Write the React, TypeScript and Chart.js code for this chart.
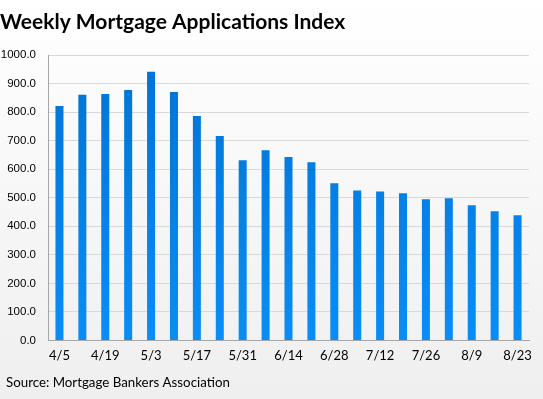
import React, { useEffect, useRef } from "react";
import { Chart, registerables } from "chart.js";

Chart.register(...registerables);

const categories = [
  "4/5", "4/12", "4/19", "4/26", "5/3", "5/10", "5/17", "5/24", "5/31", "6/7", "6/14",
  "6/21", "6/28", "7/5", "7/12", "7/19", "7/26", "8/2", "8/9", "8/16", "8/23",
];
const indexValues = [
  822, 861, 864, 878, 942, 871, 787, 717, 632, 667, 643,
  625, 551, 526, 522, 516, 495, 498, 474, 453, 439,
];
const titleText = "Weekly Mortgage Applications Index";
const sourceText = "Source: Mortgage Bankers Association";

const bgPlugin = {
  id: "bgGradient",
  beforeDraw(chart: any) {
    const { ctx, width, height } = chart;
    ctx.save();
    const g = ctx.createLinearGradient(0, 0, 0, height);
    g.addColorStop(0, "#ffffff");
    g.addColorStop(1, "#efefef");
    ctx.fillStyle = g;
    ctx.fillRect(0, 0, width, height);
    ctx.restore();
  },
};

const sourcePlugin = {
  id: "sourceText",
  afterDraw(chart: any) {
    const { ctx } = chart;
    ctx.save();
    ctx.fillStyle = "#000000";
    ctx.font = "13.3px Lato";
    ctx.textAlign = "left";
    ctx.textBaseline = "middle";
    ctx.fillText(sourceText, 6, 383);
    ctx.restore();
  },
};

export default function App() {
  const ref = useRef<HTMLCanvasElement | null>(null);
  useEffect(() => {
    document.body.style.margin = "0";
    if (!ref.current) return;
    const chart = new Chart(ref.current, {
      type: "bar",
      data: {
        labels: categories,
        datasets: [
          {
            data: indexValues,
            backgroundColor: (c: any) => {
              const { chart } = c;
              const area = chart.chartArea;
              if (!area) return "#0080e0";
              const g = chart.ctx.createLinearGradient(0, area.bottom, 0, area.top);
              g.addColorStop(0, "#0a8df7");
              g.addColorStop(1, "#0073d3");
              return g;
            },
            barPercentage: 0.35,
            categoryPercentage: 1,
          },
        ],
      },
      options: {
        animation: false,
        responsive: false,
        maintainAspectRatio: false,
        layout: { padding: { left: 0, right: 14, top: 0, bottom: 35 } },
        plugins: {
          legend: { display: false },
          tooltip: { enabled: false },
          title: {
            display: true,
            text: titleText,
            align: "start",
            color: "#000000",
            font: { family: "Lato", size: 21, weight: "bold" },
            padding: { top: 10, bottom: 20 },
          },
        },
        scales: {
          x: {
            grid: { display: false },
            border: { display: true, color: "#a6a6a6" },
            ticks: {
              autoSkip: false,
              maxRotation: 0,
              color: "#000000",
              font: { family: "Lato", size: 13 },
              padding: 0,
              callback: (_v: any, i: number) => (i % 2 === 0 ? categories[i] : ""),
            },
          },
          y: {
            min: 0,
            max: 1000,
            afterFit: (scale: any) => {
              scale.width = 48;
            },
            ticks: {
              stepSize: 100,
              color: "#000000",
              font: { family: "Liberation Sans", size: 11.5 },
              padding: 12,
              callback: (v: any) => Number(v).toFixed(1),
            },
            grid: { color: "#d9d9d9", lineWidth: 1, drawTicks: false },
            border: { display: true, color: "#a6a6a6" },
          },
        },
      },
      plugins: [bgPlugin, sourcePlugin],
    });
    return () => chart.destroy();
  }, []);
  return (
    <div style={{ width: 543, height: 399 }}>
      <canvas ref={ref} width={543} height={399} style={{ display: "block" }} />
    </div>
  );
}
